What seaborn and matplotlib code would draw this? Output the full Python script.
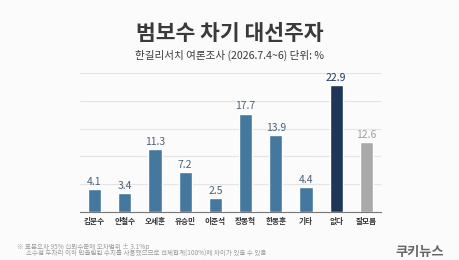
import matplotlib
matplotlib.use("Agg")
import matplotlib.pyplot as plt
import seaborn as sns
import pandas as pd

categories = ["김문수", "안철수", "오세훈", "유승민", "이준석", "장동혁", "한동훈", "기타", "없다", "잘모름"]
values = [4.1, 3.4, 11.3, 7.2, 2.5, 17.7, 13.9, 4.4, 22.9, 12.6]
yticks = [0, 5, 10, 15, 20, 25]

title = "범보수 차기 대선주자"
subtitle = "한길리서치 여론조사 (2026.7.4~6) 단위: %"
note1 = "※ 표본오차 95% 신뢰수준에 오차범위 ± 3.1%p"
note2 = "소수점 두자리 이하 반올림된 수치를 사용했으므로 전체합계(100%)에 차이가 있을 수 있음"
logo = "쿠키뉴스"

sns.set_theme(style="white")
plt.rcParams["font.family"] = ["Noto Sans CJK KR", "DejaVu Sans"]

blue = "#44789f"
navy = "#1f3658"
gray = "#a9a9ab"
colors = [blue] * 8 + [navy, gray]
label_colors = ["#4d6178"] * 8 + [navy, "#a0a0a2"]

df = pd.DataFrame({"cat": categories, "val": values})

fig = plt.figure(figsize=(4.6, 2.6), dpi=100)
fig.patch.set_facecolor("#fbfbfb")
ax = fig.add_axes([0.174, 0.186, 0.654, 0.532])
ax.set_facecolor("#fbfbfb")

sns.barplot(data=df, x="cat", y="val", hue="cat", palette=colors, legend=False,
            width=0.44, ax=ax, saturation=1)

ax.set_ylim(0, 25)
ax.set_xlim(-0.48, 9.48)
ax.set_yticks(yticks)
ax.set_yticklabels([])
ax.tick_params(axis="y", length=0)
ax.yaxis.grid(True, color="#e4e4e4", linewidth=0.8)
ax.set_axisbelow(True)
for s in ["left", "right", "top"]:
    ax.spines[s].set_visible(False)
ax.spines["bottom"].set_color("#777777")
ax.spines["bottom"].set_linewidth(0.8)
ax.set_xlabel("")
ax.set_ylabel("")
ax.tick_params(axis="x", length=0, pad=4)
for lab in ax.get_xticklabels():
    lab.set_fontsize(5.5)
    lab.set_fontweight("bold")
    lab.set_color("#333333")

for i, v in enumerate(values):
    ax.text(i, v + 0.4, f"{v}", ha="center", va="bottom", fontsize=7.5,
            color=label_colors[i])

fig.text(0.5, 0.873, title, ha="center", va="center", fontsize=15.5,
         fontweight="bold", color="#3a3a3a")
fig.text(0.5, 0.788, subtitle, ha="center", va="center", fontsize=7.6,
         color="#3a3a3a")
fig.text(0.037, 0.05, note1, ha="left", va="center", fontsize=4.7, color="#9a9a9a")
fig.text(0.057, 0.024, note2, ha="left", va="center", fontsize=4.7, color="#9a9a9a")
fig.text(0.913, 0.032, logo, ha="center", va="center", fontsize=9.5,
         fontweight="bold", color="#666666")

fig.savefig("out.png", dpi=100, facecolor=fig.get_facecolor())
